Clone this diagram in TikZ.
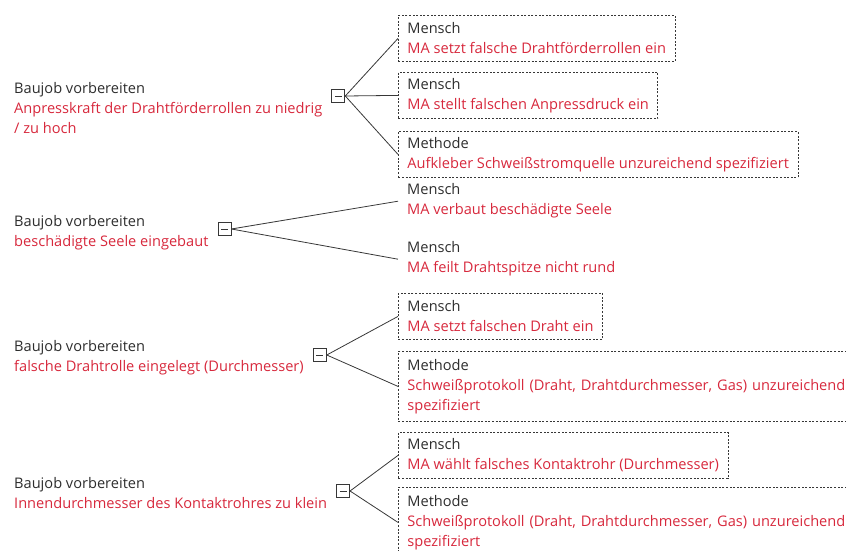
\documentclass[tikz,border=0pt]{standalone}
\usepackage{fontspec}
\setmainfont{Open Sans}
\usetikzlibrary{positioning}
\definecolor{ink}{RGB}{45,45,45}
\definecolor{fault}{RGB}{215,40,60}
\definecolor{wire}{RGB}{55,55,55}

\begin{document}
\begin{tikzpicture}[
    x=1pt, y=-1pt,
    every node/.style={font=\fontsize{14.6}{20}\selectfont, text=ink},
    effect/.style={anchor=north west, align=left, inner sep=0pt},
    cause/.style={anchor=north west, align=left, inner xsep=9pt, inner ysep=0pt, minimum height=46pt},
    causebox/.style={cause, draw=wire, thick, dash pattern=on 2pt off 1.6pt},
    longbox/.style={causebox, minimum height=70pt, text width=470pt},
    toggle/.style={draw=wire, thick, minimum size=13pt, inner sep=0pt, anchor=west,
        path picture={\draw[wire, thick] ([xshift=3pt]path picture bounding box.west) -- ([xshift=-3pt]path picture bounding box.east);}},
    link/.style={wire, thick}
]
\clip (0,0) rectangle (846,551);

% group 1
\node[effect] (e1) at (14,82) {Baujob vorbereiten\\\textcolor{fault}{Anpresskraft der Drahtförderrollen zu niedrig}\\\textcolor{fault}{/ zu hoch}};
\node[toggle] (t1) at ([xshift=9pt,yshift=-14pt]e1.north east) {};
\node[causebox] (c11) at (398,15) {Mensch\\\textcolor{fault}{MA setzt falsche Drahtförderrollen ein}};
\node[causebox] (c12) at (398,72) {Mensch\\\textcolor{fault}{MA stellt falschen Anpressdruck ein}};
\node[causebox] (c13) at (398,131) {Methode\\\textcolor{fault}{Aufkleber Schweißstromquelle unzureichend spezifiziert}};
\draw[link] (t1.east) -- (c11.west);
\draw[link] (t1.east) -- (c12.west);
\draw[link] (t1.east) -- (c13.west);

% group 2
\node[effect] (e2) at (14,215) {Baujob vorbereiten\\\textcolor{fault}{beschädigte Seele eingebaut}};
\node[toggle] (t2) at ([xshift=9pt,yshift=-14pt]e2.north east) {};
\node[cause] (c21) at (398,178) {Mensch\\\textcolor{fault}{MA verbaut beschädigte Seele}};
\node[cause] (c22) at (398,236) {Mensch\\\textcolor{fault}{MA feilt Drahtspitze nicht rund}};
\draw[link] (t2.east) -- (c21.west);
\draw[link] (t2.east) -- (c22.west);

% group 3
\node[effect] (e3) at (14,340) {Baujob vorbereiten\\\textcolor{fault}{falsche Drahtrolle eingelegt (Durchmesser)}};
\node[toggle] (t3) at ([xshift=9pt,yshift=-15pt]e3.north east) {};
\node[causebox] (c31) at (398,293) {Mensch\\\textcolor{fault}{MA setzt falschen Draht ein}};
\node[longbox] (c32) at (398,351) {Methode\\\textcolor{fault}{Schweißprotokoll (Draht, Drahtdurchmesser, Gas) unzureichend}\\\textcolor{fault}{spezifiziert}};
\draw[link] (t3.east) -- (c31.west);
\draw[link] (t3.east) -- (c32.west);

% group 4
\node[effect] (e4) at (14,477) {Baujob vorbereiten\\\textcolor{fault}{Innendurchmesser des Kontaktrohres zu klein}};
\node[toggle] (t4) at ([xshift=9pt,yshift=-14pt]e4.north east) {};
\node[causebox] (c41) at (398,432) {Mensch\\\textcolor{fault}{MA wählt falsches Kontaktrohr (Durchmesser)}};
\node[longbox] (c42) at (398,487) {Methode\\\textcolor{fault}{Schweißprotokoll (Draht, Drahtdurchmesser, Gas) unzureichend}\\\textcolor{fault}{spezifiziert}};
\draw[link] (t4.east) -- (c41.west);
\draw[link] (t4.east) -- (c42.west);
\end{tikzpicture}
\end{document}
